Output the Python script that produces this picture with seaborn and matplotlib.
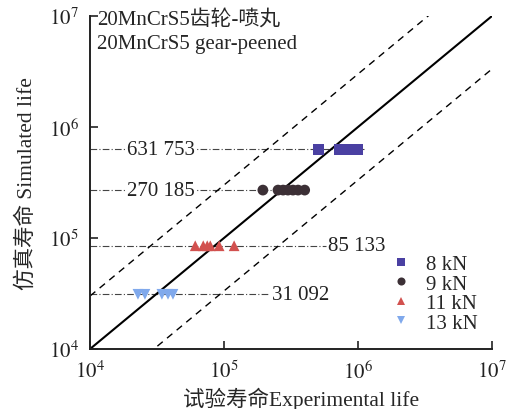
import numpy as np
import pandas as pd
import matplotlib
matplotlib.use("Agg")
import matplotlib.pyplot as plt
import seaborn as sns

# ---- data ----
loads = ["8 kN", "9 kN", "11 kN", "13 kN"]
exp_8 = [5.1e5, 7.2e5, 7.8e5, 8.5e5, 9.2e5, 1.0e6]
exp_9 = [1.95e5, 2.53e5, 2.76e5, 3.0e5, 3.27e5, 3.57e5, 4.0e5]
exp_11 = [6.1e4, 7.0e4, 7.5e4, 7.9e4, 9.2e4, 1.19e5]
exp_13 = [2.28e4, 2.57e4, 3.44e4, 3.82e4, 4.16e4]
sim_life = [631753, 270185, 85133, 31092]
sim_labels = ["631 753", "270 185", "85 133", "31 092"]
label_x = [1.9e4, 1.9e4, 5.95e5, 2.28e5]
line_end = [1.1e6, 4.2e5, 5.8e5, 2.2e5]
colors = ["#4a40a2", "#3c3036", "#d2514f", "#80a9ec"]
markers = ["s", "o", "^", "v"]
title_lines = ["20MnCrS5齿轮-喷丸", "20MnCrS5 gear-peened"]
xlabel = "试验寿命Experimental life"
ylabel = "仿真寿命 Simulated life"

exps = [exp_8, exp_9, exp_11, exp_13]
rows = []
for ld, ex, sl in zip(loads, exps, sim_life):
    for e in ex:
        rows.append({"load": ld, "exp": e, "sim": sl})
df = pd.DataFrame(rows)

sns.set_theme(style="ticks")
plt.rcParams["font.family"] = ["Liberation Serif", "Noto Sans CJK SC"]
plt.rcParams["mathtext.fontset"] = "stix"

fig = plt.figure(figsize=(5.14, 4.10), dpi=100)
ax = fig.add_axes([90/514, 1-350/410, 402/514, 333/410])

ax.set_xscale("log")
ax.set_yscale("log")
ax.set_xlim(1e4, 1e7)
ax.set_ylim(1e4, 1e7)

# reference lines
xx = np.array([1e4, 1e7])
ax.plot(xx, xx, color="black", lw=1.5, zorder=2)
ax.plot(xx, xx * 3, color="black", lw=1.0, ls=(0, (5, 4)), zorder=2)
ax.plot(xx, xx / 3, color="black", lw=1.0, ls=(0, (5, 4)), zorder=2)

# horizontal simulated-life lines
for sl, lab, lx, le in zip(sim_life, sim_labels, label_x, line_end):
    ax.plot([1e4, le], [sl, sl], color="#444444", lw=0.8, ls=(0, (6, 2, 1, 2)), zorder=1)
    ax.text(lx, sl, lab, ha="left", va="center", fontsize=15, color="#222222",
            bbox=dict(facecolor="white", edgecolor="none", pad=0.5), zorder=3)

sns.scatterplot(data=df, x="exp", y="sim", hue="load", style="load",
                hue_order=loads, style_order=loads,
                palette=dict(zip(loads, colors)),
                markers=dict(zip(loads, markers)),
                s=60, edgecolor="none", linewidth=0, ax=ax, zorder=4)

handles, labels = ax.get_legend_handles_labels()
ax.legend(handles, labels, loc="lower right", frameon=False, fontsize=15,
          handlelength=1.0, handletextpad=0.7, labelspacing=0.0, markerscale=0.75,
          borderaxespad=0.0, bbox_to_anchor=(0.985, 0.024))

# title text
fig.text(97/514, 1-10/410, title_lines[0] + "\n" + title_lines[1],
         ha="left", va="top", fontsize=15, linespacing=1.4)

ax.set_xlabel(xlabel, fontsize=15.5)
ax.xaxis.set_label_coords(0.525, -0.112)
ax.set_ylabel(ylabel, fontsize=15.5, labelpad=9)

ticks = [1e4, 1e5, 1e6, 1e7]
ax.set_xticks(ticks)
ax.set_yticks(ticks)
ax.set_xticklabels([r"$10^{%d}$" % int(np.log10(t)) for t in ticks])
ax.set_yticklabels([r"$10^{%d}$" % int(np.log10(t)) for t in ticks])
ax.minorticks_off()
ax.tick_params(direction="in", length=6, width=1.2, labelsize=15, pad=8, colors="#222222")

for s in ["top", "right"]:
    ax.spines[s].set_visible(False)
for s in ["left", "bottom"]:
    ax.spines[s].set_linewidth(1.4)
    ax.spines[s].set_color("#222222")

fig.savefig("out.png", dpi=100)
